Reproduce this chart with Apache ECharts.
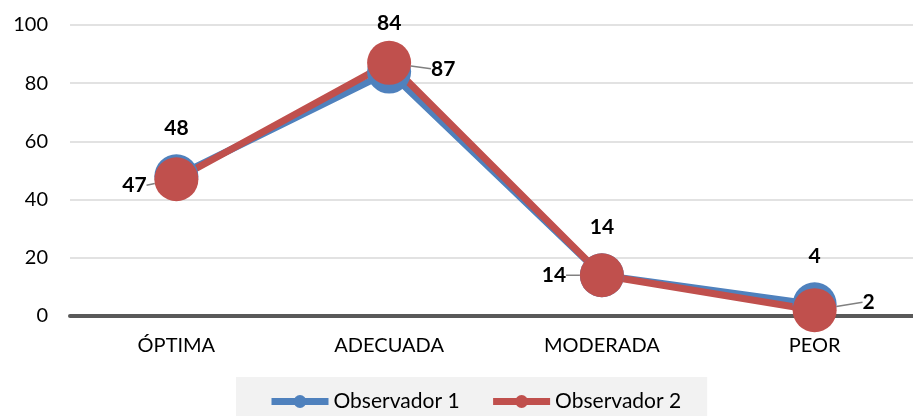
<!DOCTYPE html>
<html><head><meta charset="utf-8">
<script src="https://cdn.jsdelivr.net/npm/echarts@6/dist/echarts.min.js"></script>
<style>html,body{margin:0;padding:0;background:#fff}#c{width:913px;height:416px}</style>
</head><body><div id="c"></div>
<script>
var categories = ["ÓPTIMA", "ADECUADA", "MODERADA", "PEOR"];
var obs1 = [48, 84, 14, 4];
var obs2 = [47, 87, 14, 2];
var seriesNames = ["Observador 1", "Observador 2"];
var yTicks = {min: 0, max: 100, interval: 20};
var obs2LabelShift = [[-42, 6], [54, 6], [-48, 0], [54, -8]];

var FONT = "Lato";
var chart = echarts.init(document.getElementById('c'));
chart.setOption({
  animation: false,
  textStyle: {fontFamily: FONT},
  grid: {left: 70, width: 851, top: 25, height: 291, outerBoundsMode: 'none', containLabel: false},
  xAxis: {
    type: 'category', data: categories, boundaryGap: true,
    axisLine: {show: true, lineStyle: {color: '#595959', width: 4}},
    axisTick: {show: false},
    axisLabel: {color: '#000', fontSize: 20, margin: 20, fontFamily: FONT}
  },
  yAxis: {
    type: 'value', min: yTicks.min, max: yTicks.max, interval: yTicks.interval,
    axisLine: {show: false}, axisTick: {show: false},
    splitLine: {lineStyle: {color: '#d9d9d9', width: 1.5}},
    axisLabel: {color: '#000', fontSize: 20, margin: 22, fontFamily: FONT}
  },
  legend: {
    data: seriesNames, bottom: -18, left: 236,
    backgroundColor: '#f2f2f2',
    padding: [14, 26, 22, 32],
    itemWidth: 57, itemHeight: 16, itemGap: 30,
    lineStyle: {width: 7},
    textStyle: {fontSize: 21, color: '#000', fontFamily: FONT}
  },
  series: [
    {
      name: seriesNames[0], type: 'line', data: obs1,
      symbol: 'circle', symbolSize: 44,
      itemStyle: {color: '#4f81bd'},
      lineStyle: {width: 7, color: '#4f81bd'},
      label: {show: true, position: 'inside', offset: [0, -48], fontSize: 21, fontWeight: 'bold', color: '#000', fontFamily: FONT}
    },
    {
      name: seriesNames[1], type: 'line', data: obs2,
      symbol: 'circle', symbolSize: 44,
      itemStyle: {color: '#c0504d'},
      lineStyle: {width: 7, color: '#c0504d'},
      label: {show: true, position: 'inside', fontSize: 21, fontWeight: 'bold', color: '#000', fontFamily: FONT},
      labelLine: {show: true, lineStyle: {color: '#808080', width: 1.5}},
      labelLayout: function (p) {
        var s = obs2LabelShift[p.dataIndex];
        return {dx: s[0], dy: s[1]};
      }
    }
  ]
});
</script></body></html>
